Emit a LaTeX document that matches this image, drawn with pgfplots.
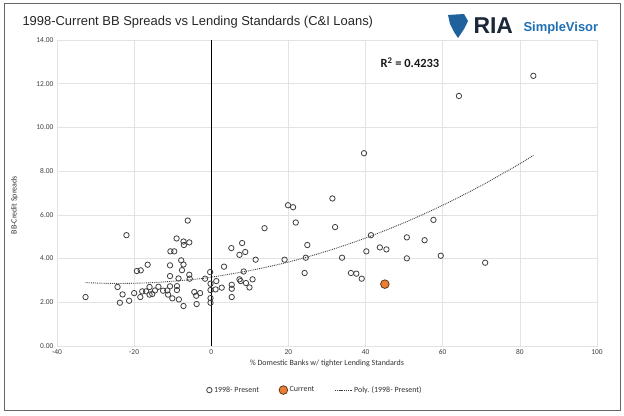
\documentclass[border=0pt]{standalone}
\usepackage{pgfplots}
\pgfplotsset{compat=1.18}
\usepackage{fontspec}
\setmainfont{Carlito}
\newfontfamily\arial{Liberation Sans}
\definecolor{ptedge}{HTML}{404040}
\definecolor{curfill}{HTML}{ED7D31}
\definecolor{curedge}{HTML}{5A3A20}
\definecolor{rianavy}{HTML}{1B2838}
\definecolor{riablue}{HTML}{1F6FB5}

\begin{document}
\begin{tikzpicture}
\fill[white] (0bp,0bp) rectangle (624bp,416bp);
\draw[gray!80!black, line width=1bp] (4bp,5bp) rectangle (620bp,412bp);
\node[anchor=west, font=\arial\fontsize{13}{15}\selectfont, text=black!85] at (19bp,394bp)
  {1998-Current BB Spreads vs Lending Standards (C\&I Loans)};
% logo
\fill[riablue!80!rianavy] (448bp,401bp) -- (464bp,402bp) -- (468bp,395bp) -- (464bp,387bp) -- (458bp,378bp) -- (454bp,384bp) -- (450bp,392bp) -- cycle;
\node[anchor=west, font=\arial\bfseries\fontsize{23}{24}\selectfont, text=rianavy] at (470bp,390bp) {RIA};
\node[anchor=west, font=\arial\bfseries\fontsize{13}{15}\selectfont, text=riablue] at (520bp,388bp) {SimpleVisor};

\begin{axis}[
    at={(57bp,70bp)}, anchor=south west,
    scale only axis, width=540bp, height=306bp,
    xmin=-40, xmax=100, ymin=0, ymax=14,
    xtick={-40,-20,...,100}, ytick={0,2,...,14},
    /pgf/number format/assume math mode=true,
    yticklabel style={/pgf/number format/.cd, fixed, fixed zerofill, precision=2},
    tick label style={font=\fontsize{7.5}{9}\selectfont, text=black!75},
    major tick length=0pt,
    xmajorgrids, ymajorgrids,
    grid style={gray!22, line width=0.7bp},
    axis line style={gray!22, line width=0.7bp},
    xlabel={\% Domestic Banks w/ tighter Lending Standards},
    ylabel={BB-Credit Spreads},
    label style={font=\fontsize{8}{10}\selectfont, text=black!80},
    xlabel style={yshift=2bp},
    ylabel style={at={(axis description cs:-0.066,0.46)}, anchor=south},
    legend style={at={(0.478,-0.144)}, anchor=center, draw=none,
      font=\fontsize{8}{10}\selectfont, text=black!80,
      /tikz/every even column/.append style={column sep=18bp}},
    legend columns=3,
  ]
  \addplot[only marks, mark=o, mark size=2.7bp, mark options={draw=ptedge, fill=white, line width=0.8bp}]
    table {
x y
-32.6 2.24
-24.3 2.70
-23.0 2.36
-23.7 1.98
-22.0 5.07
-21.3 2.07
-20.0 2.42
-19.3 3.43
-18.3 3.46
-18.4 2.24
-17.9 2.50
-16.5 3.72
-16.9 2.50
-16.0 2.70
-16.0 2.35
-15.3 2.38
-14.6 2.54
-13.7 2.71
-12.5 2.53
-11.4 2.54
-11.2 2.35
-10.7 2.73
-10.7 3.69
-10.7 3.20
-10.6 4.33
-9.6 4.33
-10.1 2.18
-9.0 4.92
-8.9 2.74
-8.9 2.56
-8.5 3.09
-8.4 2.13
-7.8 3.92
-7.6 3.47
-7.2 3.73
-7.2 4.78
-7.1 4.62
-7.2 1.83
-6.1 5.74
-5.7 4.74
-5.7 3.26
-5.6 3.08
-4.4 2.47
-3.9 2.30
-3.8 1.92
-2.9 2.42
-1.6 3.08
-0.3 3.38
-0.2 2.85
-0.2 2.56
-0.2 2.19
-0.2 1.98
1.3 2.97
1.1 2.59
2.7 2.67
3.3 3.63
5.2 4.48
5.3 2.80
5.3 2.62
5.3 2.24
7.3 4.17
7.3 3.05
7.6 2.97
8.0 4.71
8.4 3.41
8.8 4.30
9.0 2.88
9.9 2.68
10.7 3.05
11.5 3.95
13.8 5.39
19.0 3.95
19.9 6.44
21.2 6.35
21.9 5.65
24.2 3.34
24.5 4.04
24.9 4.62
31.4 6.75
32.1 5.44
33.9 4.04
36.2 3.34
37.6 3.31
39.0 3.08
39.6 8.82
40.2 4.33
41.4 5.07
43.7 4.51
45.4 4.42
50.7 4.97
50.7 4.01
55.3 4.84
57.6 5.77
59.5 4.13
64.2 11.44
71.0 3.81
83.5 12.36
    };
  \addlegendentry{1998- Present}
  \addplot[only marks, mark=*, mark size=4.3bp, mark options={draw=curedge, fill=curfill, line width=0.8bp}]
    coordinates {(45.0,2.83)};
  \addlegendentry{Current}
  \addplot[black!75, line width=0.9bp, densely dotted, smooth]
    coordinates {(-32.6,2.90)(-25,2.86)(-15,2.90)(-5,3.04)(0,3.15)(10,3.45)(20,3.84)(30,4.34)(40,4.94)(50,5.64)(60,6.44)(70,7.34)(80,8.34)(83.5,8.72)};
  \addlegendentry{Poly. (1998- Present)}
  \addplot[black, line width=1.3bp, forget plot] coordinates {(0,0)(0,14)};
  \node[font=\bfseries\fontsize{12.5}{14}\selectfont, text=black!90] at (axis cs:51.5,12.95) {R\textsuperscript{2} = 0.4233};
\end{axis}
\end{tikzpicture}
\end{document}
